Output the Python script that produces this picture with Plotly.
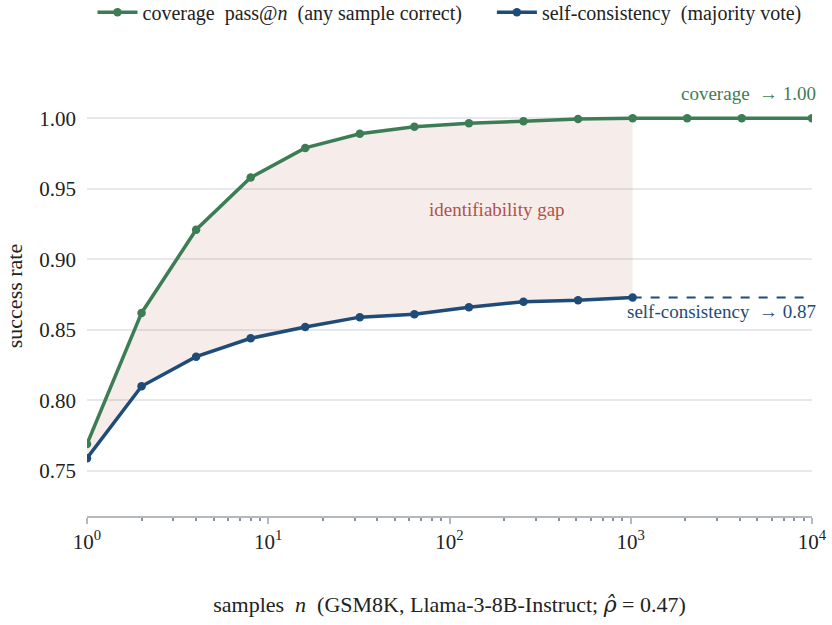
import plotly.graph_objects as go

n_sc = [1, 2, 4, 8, 16, 32, 64, 128, 256, 512, 1024]
sc = [0.759, 0.810, 0.831, 0.844, 0.852, 0.859, 0.861, 0.866, 0.870, 0.871, 0.873]
n_cov = [1, 2, 4, 8, 16, 32, 64, 128, 256, 512, 1024, 2048, 4096, 10000]
cov = [0.769, 0.862, 0.921, 0.958, 0.979, 0.989, 0.994, 0.9965, 0.998, 0.9995, 1.0, 1.0, 1.0, 1.0]
sc_limit = 0.873
xtick_vals = [1, 10, 100, 1000, 10000]
xtick_text = ["10<sup>0</sup>", "10<sup>1</sup>", "10<sup>2</sup>", "10<sup>3</sup>", "10<sup>4</sup>"]
ytick_vals = [0.75, 0.80, 0.85, 0.90, 0.95, 1.00]
minor_vals = [m * d for d in [1, 10, 100, 1000] for m in range(2, 10)]

GREEN = "#3d7d56"
BLUE = "#1f4b78"
FONT = "Liberation Serif, Times New Roman, DejaVu Serif, serif"

fig = go.Figure()

k = len(n_sc)
fig.add_trace(go.Scatter(
    x=n_cov[:k] + n_sc[::-1], y=cov[:k] + sc[::-1],
    fill="toself", fillcolor="rgba(185,95,85,0.12)", line=dict(width=0),
    mode="lines", hoverinfo="skip", showlegend=False))

fig.add_trace(go.Scatter(
    x=[n_sc[-1], 10000], y=[sc_limit, sc_limit], mode="lines",
    line=dict(color=BLUE, width=2, dash="dash"), showlegend=False))

fig.add_trace(go.Scatter(
    x=n_cov, y=cov, mode="lines+markers",
    name="coverage  pass@<i>n</i>  (any sample correct)" + "&nbsp;" * 5,
    line=dict(color=GREEN, width=3.5), marker=dict(size=8.5, color=GREEN)))
fig.add_trace(go.Scatter(
    x=n_sc, y=sc, mode="lines+markers", name="self-consistency  (majority vote)",
    line=dict(color=BLUE, width=3.5), marker=dict(size=8.5, color=BLUE)))

fig.add_annotation(x=4, y=1.0177, xref="x", yref="y", text="coverage  → 1.00",
                   showarrow=False, xanchor="right", xshift=6,
                   font=dict(family=FONT, size=19, color=GREEN))
fig.add_annotation(x=4, y=0.8633, xref="x", yref="y", text="self-consistency  → 0.87",
                   showarrow=False, xanchor="right", xshift=6,
                   font=dict(family=FONT, size=19, color=BLUE))
fig.add_annotation(x=2.262, y=0.935, xref="x", yref="y", text="identifiability gap",
                   showarrow=False, font=dict(family=FONT, size=19, color="#b0524a"))

xtitle = ("samples  <i>n</i>  (GSM8K, Llama-3-8B-Instruct; "
          "<span style='font-family:DejaVu Serif'><i>ρ\u0302</i></span> = 0.47)")

fig.update_layout(
    width=832, height=625,
    margin=dict(l=87, r=20, t=76, b=109, autoexpand=False),
    paper_bgcolor="white", plot_bgcolor="white",
    font=dict(family=FONT, size=20, color="#222222"),
    legend=dict(orientation="h", x=0.5, xanchor="center", y=1.145, yanchor="middle",
                font=dict(family=FONT, size=20, color="#222222"),
                itemwidth=40, tracegroupgap=0),
    xaxis=dict(type="log", range=[0, 4], tickvals=xtick_vals, ticktext=xtick_text,
               showgrid=False, zeroline=False, showline=True, linecolor="#b4b9c0",
               linewidth=2, ticks="outside", ticklen=6, tickwidth=2, tickcolor="#b4b9c0",
               minor=dict(tickvals=minor_vals, ticks="outside", ticklen=3, tickwidth=1.5,
                          tickcolor="#8a929c", showgrid=False),
               tickfont=dict(size=21), ticklabelstandoff=0,
               title=dict(text=xtitle, font=dict(size=22), standoff=43)),
    yaxis=dict(range=[0.718, 1.03], tickvals=ytick_vals, tickformat=".2f",
               showgrid=True, gridcolor="#e6e8ec", gridwidth=1.5, zeroline=False,
               showline=False, ticks="", tickfont=dict(size=21), ticklabelstandoff=10,
               title=dict(text="success rate", font=dict(size=22), standoff=10)),
)

fig.write_html("out.html")
